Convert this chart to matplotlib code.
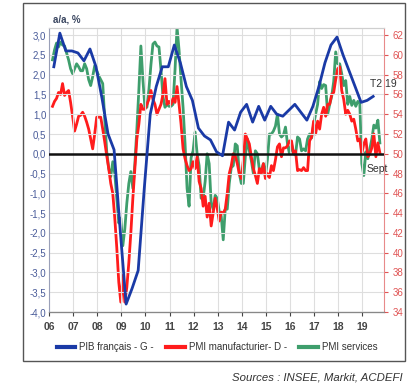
import numpy as np
import matplotlib
matplotlib.use("Agg")
import matplotlib.pyplot as plt
from matplotlib.patches import Rectangle
from matplotlib.lines import Line2D

plt.rcParams['font.family'] = ['Liberation Sans', 'DejaVu Sans']

# ---- Data ----
# PIB français, glissement annuel (%), trimestriel 2006T1 .. 2019T2
pib_start = 2006.2
pib = [2.2, 3.05, 2.6, 2.6, 2.55, 2.35, 2.65, 2.2,
       1.4, 0.5, 0.1, -1.9, -3.8, -3.4, -2.95, -0.9,
       1.0, 1.7, 2.2, 2.2, 2.75, 2.3, 1.7, 1.35,
       0.65, 0.45, 0.35, 0.05, -0.05, 0.8, 0.6, 1.05,
       1.25, 0.8, 1.2, 0.85, 1.2, 1.0, 0.95, 1.1,
       1.25, 1.05, 0.85, 1.2, 1.7, 2.3, 2.75, 2.95,
       2.5, 2.1, 1.7, 1.3, 1.35, 1.45]

# PMI mensuels, fev 2006 .. sept 2019
pmi_start_year, pmi_start_month = 2006, 2
pmi_manuf = [
    54.8, 55.3, 55.6, 56.2, 56.0, 57.1, 55.9, 56.2, 56.4, 55.2, 53.8,           # 2006
    52.3, 53.0, 53.8, 53.9, 54.2, 53.8, 53.2, 52.5, 51.5, 50.5, 52.0, 53.7,     # 2007
    53.7, 53.7, 52.5, 51.2, 49.8, 48.5, 47.0, 46.0, 43.5, 40.5, 37.0, 35.0,     # 2008
    37.7, 35.0, 36.5, 39.0, 42.0, 45.5, 48.5, 51.5, 53.0, 55.0, 54.5, 54.5,     # 2009
    55.0, 55.5, 56.4, 55.5, 55.0, 54.0, 54.5, 55.0, 56.0, 57.6, 55.0, 55.3,     # 2010
    55.0, 55.6, 55.2, 56.8, 55.0, 53.0, 50.5, 49.5, 48.8, 48.3, 48.5, 49.2,     # 2011
    48.5, 49.7, 47.2, 46.5, 44.7, 45.7, 43.6, 45.0, 42.7, 44.0, 45.5, 44.5,     # 2012
    43.2, 44.1, 44.0, 44.4, 46.0, 48.0, 48.8, 50.0, 49.8, 49.0, 48.0, 47.5,     # 2013
    49.3, 52.0, 51.5, 51.0, 49.7, 48.5, 47.8, 47.0, 48.5, 48.0, 49.0, 47.5,     # 2014
    48.0, 47.6, 48.8, 48.3, 49.4, 50.7, 51.0, 49.7, 50.6, 50.6, 50.8, 51.3,     # 2015
    51.3, 50.0, 50.3, 48.3, 48.4, 48.3, 48.6, 48.3, 48.3, 51.3, 51.7, 53.3,     # 2016
    52.0, 53.3, 52.5, 54.0, 54.7, 53.8, 55.0, 55.0, 56.0, 56.2, 57.5, 58.6,     # 2017
    58.8, 56.4, 55.5, 54.0, 54.4, 54.0, 53.3, 53.5, 52.5, 51.3, 51.5, 50.0,     # 2018
    51.0, 51.5, 49.7, 50.0, 50.6, 52.0, 49.7, 51.1, 50.1,                       # 2019
]
pmi_services = [
    59.5, 60.5, 61.2, 60.8, 61.3, 61.0, 60.9, 60.2, 59.5, 58.6, 58.1,           # 2006
    58.6, 59.1, 58.8, 58.4, 58.4, 59.1, 58.6, 57.5, 56.9, 57.8, 58.9, 58.4,     # 2007
    57.9, 57.5, 57.1, 53.5, 50.2, 48.5, 47.7, 49.2, 48.0, 45.5, 43.0, 43.5,     # 2008
    40.7, 42.4, 45.0, 47.0, 48.2, 46.5, 49.0, 52.5, 56.5, 60.9, 57.5, 54.7,     # 2009
    54.7, 56.5, 59.0, 61.1, 61.3, 60.9, 60.8, 58.5, 55.8, 54.7, 55.0, 54.8,     # 2010
    54.8, 55.0, 58.5, 62.8, 60.5, 57.5, 54.7, 51.0, 46.5, 44.7, 49.6, 50.3,     # 2011
    52.2, 50.0, 48.8, 45.5, 45.5, 47.2, 50.0, 49.0, 45.0, 44.4, 45.8, 45.5,     # 2012
    44.2, 43.7, 41.3, 44.4, 44.4, 47.0, 48.6, 48.8, 51.0, 50.8, 48.0, 47.0,     # 2013
    47.0, 49.7, 51.5, 50.3, 49.3, 48.0, 50.3, 50.0, 48.4, 48.3, 49.0, 47.7,     # 2014
    49.4, 52.0, 52.0, 52.3, 52.8, 54.0, 52.0, 51.7, 51.9, 52.7, 51.0, 50.0,     # 2015
    51.0, 50.0, 49.9, 51.7, 51.5, 50.3, 50.5, 50.3, 51.5, 52.0, 51.6, 52.9,     # 2016
    54.0, 55.0, 57.3, 56.6, 57.0, 56.9, 54.0, 55.0, 55.8, 57.3, 60.3, 59.1,     # 2017
    59.1, 58.1, 56.9, 57.4, 55.0, 55.8, 54.9, 55.4, 54.8, 55.3, 55.1, 49.0,     # 2018
    47.8, 50.2, 49.5, 50.5, 51.5, 52.9, 52.6, 53.4, 51.1,                       # 2019
]

left_ticks = [-4.0, -3.5, -3.0, -2.5, -2.0, -1.5, -1.0, -0.5, 0.0, 0.5, 1.0, 1.5, 2.0, 2.5, 3.0]
right_ticks = list(range(34, 63, 2))
years = list(range(2006, 2020))
year_labels = [f"{y % 100:02d}" for y in years]

series_labels = ["PIB français - G -", "PMI manufacturier- D -", "PMI services"]
source_text = "Sources : INSEE, Markit, ACDEFI"

# ---- Figure ----
W, H = 415, 388
fig = plt.figure(figsize=(W / 100, H / 100), dpi=100)

def fx(px):
    return px / W

def fy(py):
    return 1 - py / H

ax = fig.add_axes([fx(49), fy(312), fx(384) - fx(49), fy(28) - fy(312)])
ax2 = ax.twinx()

blue = '#1a3aa6'
red = '#ff1c1c'
green = '#3e9e6c'

t_pib = pib_start + np.arange(len(pib)) / 4.0
n = len(pmi_manuf)
t_pmi = pmi_start_year + (pmi_start_month - 1 + np.arange(n) + 0.75) / 12.0

ylo, yhi = -4.0, 3.18
ax.set_ylim(ylo, yhi)
ax2.set_ylim(50 + 4 * ylo, 50 + 4 * yhi)
ax.set_xlim(2006, 2019.9)

ax.set_yticks(left_ticks)
ax.set_yticklabels([f"{v:.1f}".replace('.', ',') for v in left_ticks])
ax2.set_yticks(right_ticks)
ax.set_xticks(years)
ax.set_xticklabels(year_labels)

ax.grid(True, color='#dedede', linewidth=0.8)
ax.set_axisbelow(True)

ax.axhline(0, color='#111111', linewidth=1.8, zorder=3)

ax2.plot(t_pmi, pmi_services, color=green, linewidth=2.0, zorder=2)
ax2.plot(t_pmi, pmi_manuf, color=red, linewidth=2.0, zorder=3)
ax.set_zorder(ax2.get_zorder() + 1)
ax.patch.set_visible(False)
ax.plot(t_pib, pib, color=blue, linewidth=2.0, zorder=4)

for s in ['top']:
    ax.spines[s].set_color('#cfcfcf')
    ax2.spines[s].set_color('#cfcfcf')
ax.spines['left'].set_color('#9aa0b8')
ax.spines['bottom'].set_color('#888888')
ax2.spines['right'].set_color('#e88a8a')
ax2.spines['left'].set_visible(False)
ax.spines['right'].set_visible(False)

ax.tick_params(axis='y', colors='#4a5c9a', labelsize=7, length=0, pad=2)
ax.tick_params(axis='x', colors='#444444', labelsize=7.5, length=3, pad=4, direction='out')
for lab in ax.get_xticklabels():
    lab.set_fontweight('bold')
ax2.tick_params(axis='y', colors='#e05555', labelsize=7, length=3, pad=3, direction='out')

# Labels and annotations
fig.text(fx(53), fy(20), "a/a, %", fontsize=7, color='#3a4660', fontweight='bold',
         ha='left', va='center')
ax.text(t_pib[-1] - 0.15, pib[-1] + 0.32, "T2 19", fontsize=7.5, color='#333333',
        ha='left', va='center', zorder=6)
ax2.text(t_pmi[-1] - 0.55, 48.5, "Sept", fontsize=7.5, color='#333333',
         ha='left', va='center', zorder=6)

# Legend
handles = [Line2D([], [], color=blue, linewidth=3),
           Line2D([], [], color=red, linewidth=3),
           Line2D([], [], color=green, linewidth=3)]
leg = fig.legend(handles, series_labels, loc='center', bbox_to_anchor=(fx(217), fy(347)),
                 ncol=3, frameon=False, fontsize=7, handlelength=1.9, handletextpad=0.4,
                 columnspacing=1.3)
for txt in leg.get_texts():
    txt.set_color('#333333')

# Outer frame
fig.patches.append(Rectangle((fx(23), fy(361)), fx(405) - fx(23), fy(3) - fy(361),
                             transform=fig.transFigure, fill=False,
                             edgecolor='#555555', linewidth=1.0))

fig.text(fx(403), fy(377), source_text, fontsize=8.2, style='italic', color='#333333',
         ha='right', va='center')

fig.savefig("out.png", dpi=100)
